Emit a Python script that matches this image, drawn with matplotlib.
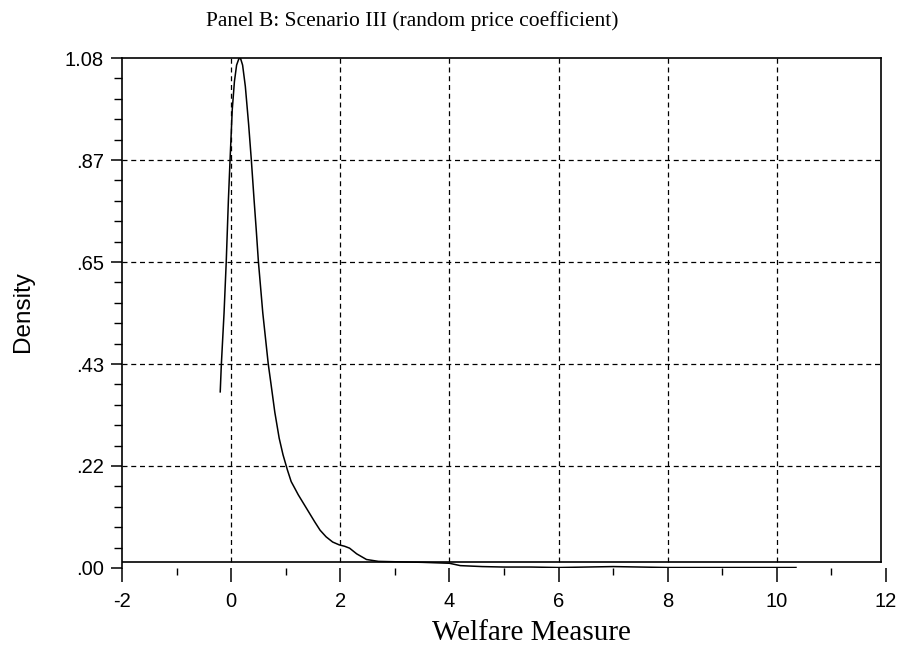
import matplotlib

matplotlib.use("Agg")
import matplotlib.pyplot as plt
from matplotlib.ticker import FixedLocator, MultipleLocator

plt.rcParams["axes.unicode_minus"] = False

# kernel density of the welfare measure
welfare = [-0.20, -0.18, -0.13, -0.09, -0.05, -0.02, 0.02, 0.06, 0.10, 0.14,
           0.17, 0.21, 0.26, 0.32, 0.37, 0.42, 0.46, 0.50, 0.58, 0.68,
           0.73, 0.80, 0.88, 0.95, 1.03, 1.10, 1.17, 1.23, 1.33, 1.43,
           1.53, 1.63, 1.74, 1.86, 1.98, 2.08, 2.17, 2.30, 2.48, 2.70,
           3.08, 3.50, 4.00, 4.20, 4.60, 5.00, 5.50, 6.00, 6.50, 7.00,
           7.50, 8.00, 9.00, 10.00, 10.35]
density = [0.373, 0.43, 0.54, 0.648, 0.78, 0.864, 0.97, 1.03, 1.065, 1.078,
           1.08, 1.065, 1.02, 0.94, 0.864, 0.78, 0.716, 0.648, 0.54, 0.432,
           0.39, 0.33, 0.275, 0.24, 0.208, 0.183, 0.168, 0.155, 0.136, 0.117,
           0.098, 0.08, 0.066, 0.055, 0.049, 0.046, 0.042, 0.030, 0.018, 0.014,
           0.013, 0.012, 0.010, 0.005, 0.003, 0.002, 0.002, 0.001, 0.002, 0.003,
           0.002, 0.001, 0.001, 0.001, 0.001]

y_ticks = [0.0, 0.216, 0.432, 0.648, 0.864, 1.08]
y_labels = [".00", ".22", ".43", ".65", ".87", "1.08"]
x_ticks = [-2, 0, 2, 4, 6, 8, 10, 12]

X_MIN, X_MAX, X_FRAME = -2, 12, 11.9
Y_MAX, Y_FRAME = 1.08, 0.0127

fig = plt.figure(figsize=(9.03, 6.63), dpi=100)
fig.patch.set_facecolor("white")
ax = fig.add_axes([0.1351, 0.1433, 0.8461, 0.7692])

ax.plot(welfare, density, color="black", lw=1.1)

ax.set_xlim(X_MIN, X_MAX)
ax.set_ylim(0, Y_MAX)

# dashed grid, interior lines only
for xv in x_ticks[1:-1]:
    ax.axvline(xv, ymin=Y_FRAME / Y_MAX, color="black", ls=(0, (4, 3)), lw=0.9)
for yv in y_ticks[1:-1]:
    ax.axhline(yv, xmax=(X_FRAME - X_MIN) / (X_MAX - X_MIN), color="black",
               ls=(0, (4, 3)), lw=0.9)

# frame: bottom edge sits a touch above zero, right edge short of 12
ax.spines["bottom"].set_visible(False)
ax.axhline(Y_FRAME, xmax=(X_FRAME - X_MIN) / (X_MAX - X_MIN), color="black", lw=1.2)
ax.spines["right"].set_position(("data", X_FRAME))
ax.spines["right"].set_bounds(Y_FRAME, Y_MAX)
ax.spines["top"].set_bounds(X_MIN, X_FRAME)
for s in ("left", "top", "right"):
    ax.spines[s].set_linewidth(1.2)

ax.yaxis.set_major_locator(FixedLocator(y_ticks))
ax.set_yticklabels(y_labels)
ax.yaxis.set_minor_locator(MultipleLocator(0.0432))
ax.xaxis.set_major_locator(FixedLocator(x_ticks))
ax.xaxis.set_minor_locator(MultipleLocator(1))

ax.tick_params(axis="y", which="major", direction="out", length=8, width=1.1,
               pad=5, labelsize=14.5, labelfontfamily="Liberation Sans")
ax.tick_params(axis="y", which="minor", direction="out", length=6, width=1.0)
ax.tick_params(axis="x", which="major", direction="out", length=10, width=1.1,
               pad=7, labelsize=14.5, labelfontfamily="Liberation Sans")
ax.tick_params(axis="x", which="minor", direction="out", length=5, width=1.0)
ax.tick_params(right=False, top=False, which="both")

fig.text(0.457, 0.968, "Panel B: Scenario III (random price coefficient)",
         ha="center", va="center", fontsize=15.5, family="Liberation Serif")
fig.text(0.588, 0.045, "Welfare Measure", ha="center", va="center",
         fontsize=21, family="Liberation Serif")
fig.text(0.026, 0.53, "Density", ha="center", va="center", rotation=90,
         fontsize=17.5, family="Liberation Sans")

fig.savefig("out.png", dpi=100, facecolor="white")
